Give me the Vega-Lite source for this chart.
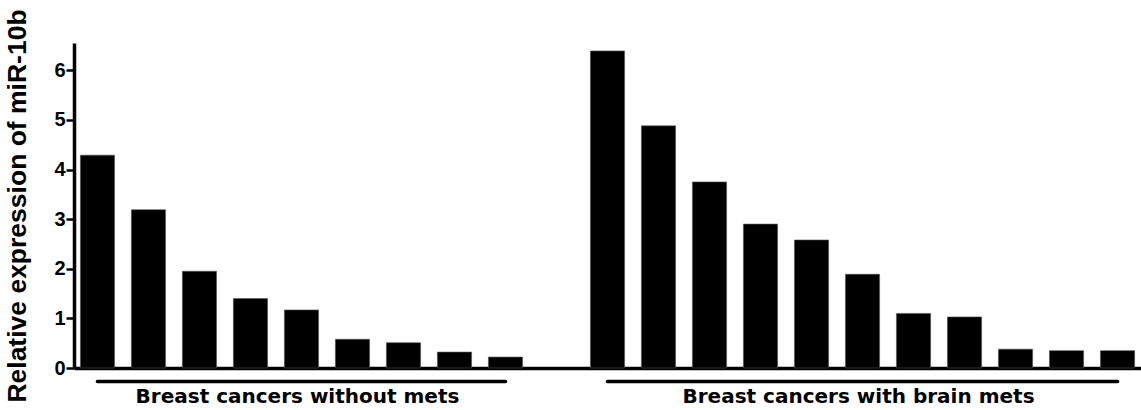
{
  "$schema": "https://vega.github.io/schema/vega-lite/v6.json",
  "autosize": "none",
  "width": 1067,
  "height": 325,
  "padding": {"left": 74, "top": 43, "right": 0, "bottom": 42},
  "background": "white",
  "config": {
    "view": {"stroke": null},
    "font": "DejaVu Sans"
  },
  "datasets": {
    "bars": [
      {"id": "A1", "group": "Breast cancers without mets", "value": 4.29},
      {"id": "A2", "group": "Breast cancers without mets", "value": 3.19},
      {"id": "A3", "group": "Breast cancers without mets", "value": 1.95},
      {"id": "A4", "group": "Breast cancers without mets", "value": 1.40},
      {"id": "A5", "group": "Breast cancers without mets", "value": 1.17},
      {"id": "A6", "group": "Breast cancers without mets", "value": 0.58},
      {"id": "A7", "group": "Breast cancers without mets", "value": 0.51},
      {"id": "A8", "group": "Breast cancers without mets", "value": 0.32},
      {"id": "A9", "group": "Breast cancers without mets", "value": 0.22},
      {"id": "B1", "group": "Breast cancers with brain mets", "value": 6.39},
      {"id": "B2", "group": "Breast cancers with brain mets", "value": 4.88},
      {"id": "B3", "group": "Breast cancers with brain mets", "value": 3.75},
      {"id": "B4", "group": "Breast cancers with brain mets", "value": 2.90},
      {"id": "B5", "group": "Breast cancers with brain mets", "value": 2.58},
      {"id": "B6", "group": "Breast cancers with brain mets", "value": 1.89},
      {"id": "B7", "group": "Breast cancers with brain mets", "value": 1.10},
      {"id": "B8", "group": "Breast cancers with brain mets", "value": 1.03},
      {"id": "B9", "group": "Breast cancers with brain mets", "value": 0.38},
      {"id": "B10", "group": "Breast cancers with brain mets", "value": 0.35},
      {"id": "B11", "group": "Breast cancers with brain mets", "value": 0.35}
    ],
    "groups": [
      {"group": "Breast cancers without mets", "first": "A1", "last": "A9", "mid": "A5"},
      {"group": "Breast cancers with brain mets", "first": "B1", "last": "B11", "mid": "B6"}
    ]
  },
  "layer": [
    {
      "data": {"name": "bars"},
      "mark": {"type": "bar", "color": "black", "stroke": "#555", "strokeWidth": 0.6},
      "encoding": {
        "x": {
          "field": "id",
          "type": "nominal",
          "sort": null,
          "scale": {
            "domain": ["A1","A2","A3","A4","A5","A6","A7","A8","A9","gap","B1","B2","B3","B4","B5","B6","B7","B8","B9","B10","B11"],
            "paddingInner": 0.33,
            "paddingOuter": 0.125
          },
          "axis": {
            "title": null,
            "labels": false,
            "ticks": false,
            "domainColor": "black",
            "domainWidth": 3.5,
            "grid": false
          }
        },
        "y": {
          "field": "value",
          "type": "quantitative",
          "scale": {"domain": [0, 6.55], "nice": false},
          "axis": {
            "title": "Relative expression of miR-10b",
            "titleFont": "Liberation Sans",
            "titleFontSize": 26.5,
            "titleFontWeight": "bold",
            "titleColor": "black",
            "titlePadding": 22,
            "values": [0, 1, 2, 3, 4, 5, 6],
            "labelFont": "Liberation Sans",
            "labelFontSize": 20,
            "labelFontWeight": "bold",
            "labelColor": "black",
            "labelPadding": 1,
            "tickSize": 8,
            "tickWidth": 2.5,
            "tickColor": "black",
            "domainColor": "black",
            "domainWidth": 3.5,
            "grid": false
          }
        }
      }
    },
    {
      "data": {"name": "groups"},
      "mark": {"type": "rule", "color": "black", "strokeWidth": 3.5, "strokeCap": "round", "clip": false},
      "encoding": {
        "x": {"field": "first", "type": "nominal"},
        "x2": {"field": "last"},
        "y": {"datum": -0.27}
      }
    },
    {
      "data": {"name": "groups"},
      "mark": {"type": "text", "font": "DejaVu Sans", "fontSize": 20, "fontWeight": "bold", "color": "black", "baseline": "middle", "align": "center", "dx": -4, "clip": false},
      "encoding": {
        "x": {"field": "mid", "type": "nominal"},
        "y": {"datum": -0.59},
        "text": {"field": "group"}
      }
    }
  ]
}
